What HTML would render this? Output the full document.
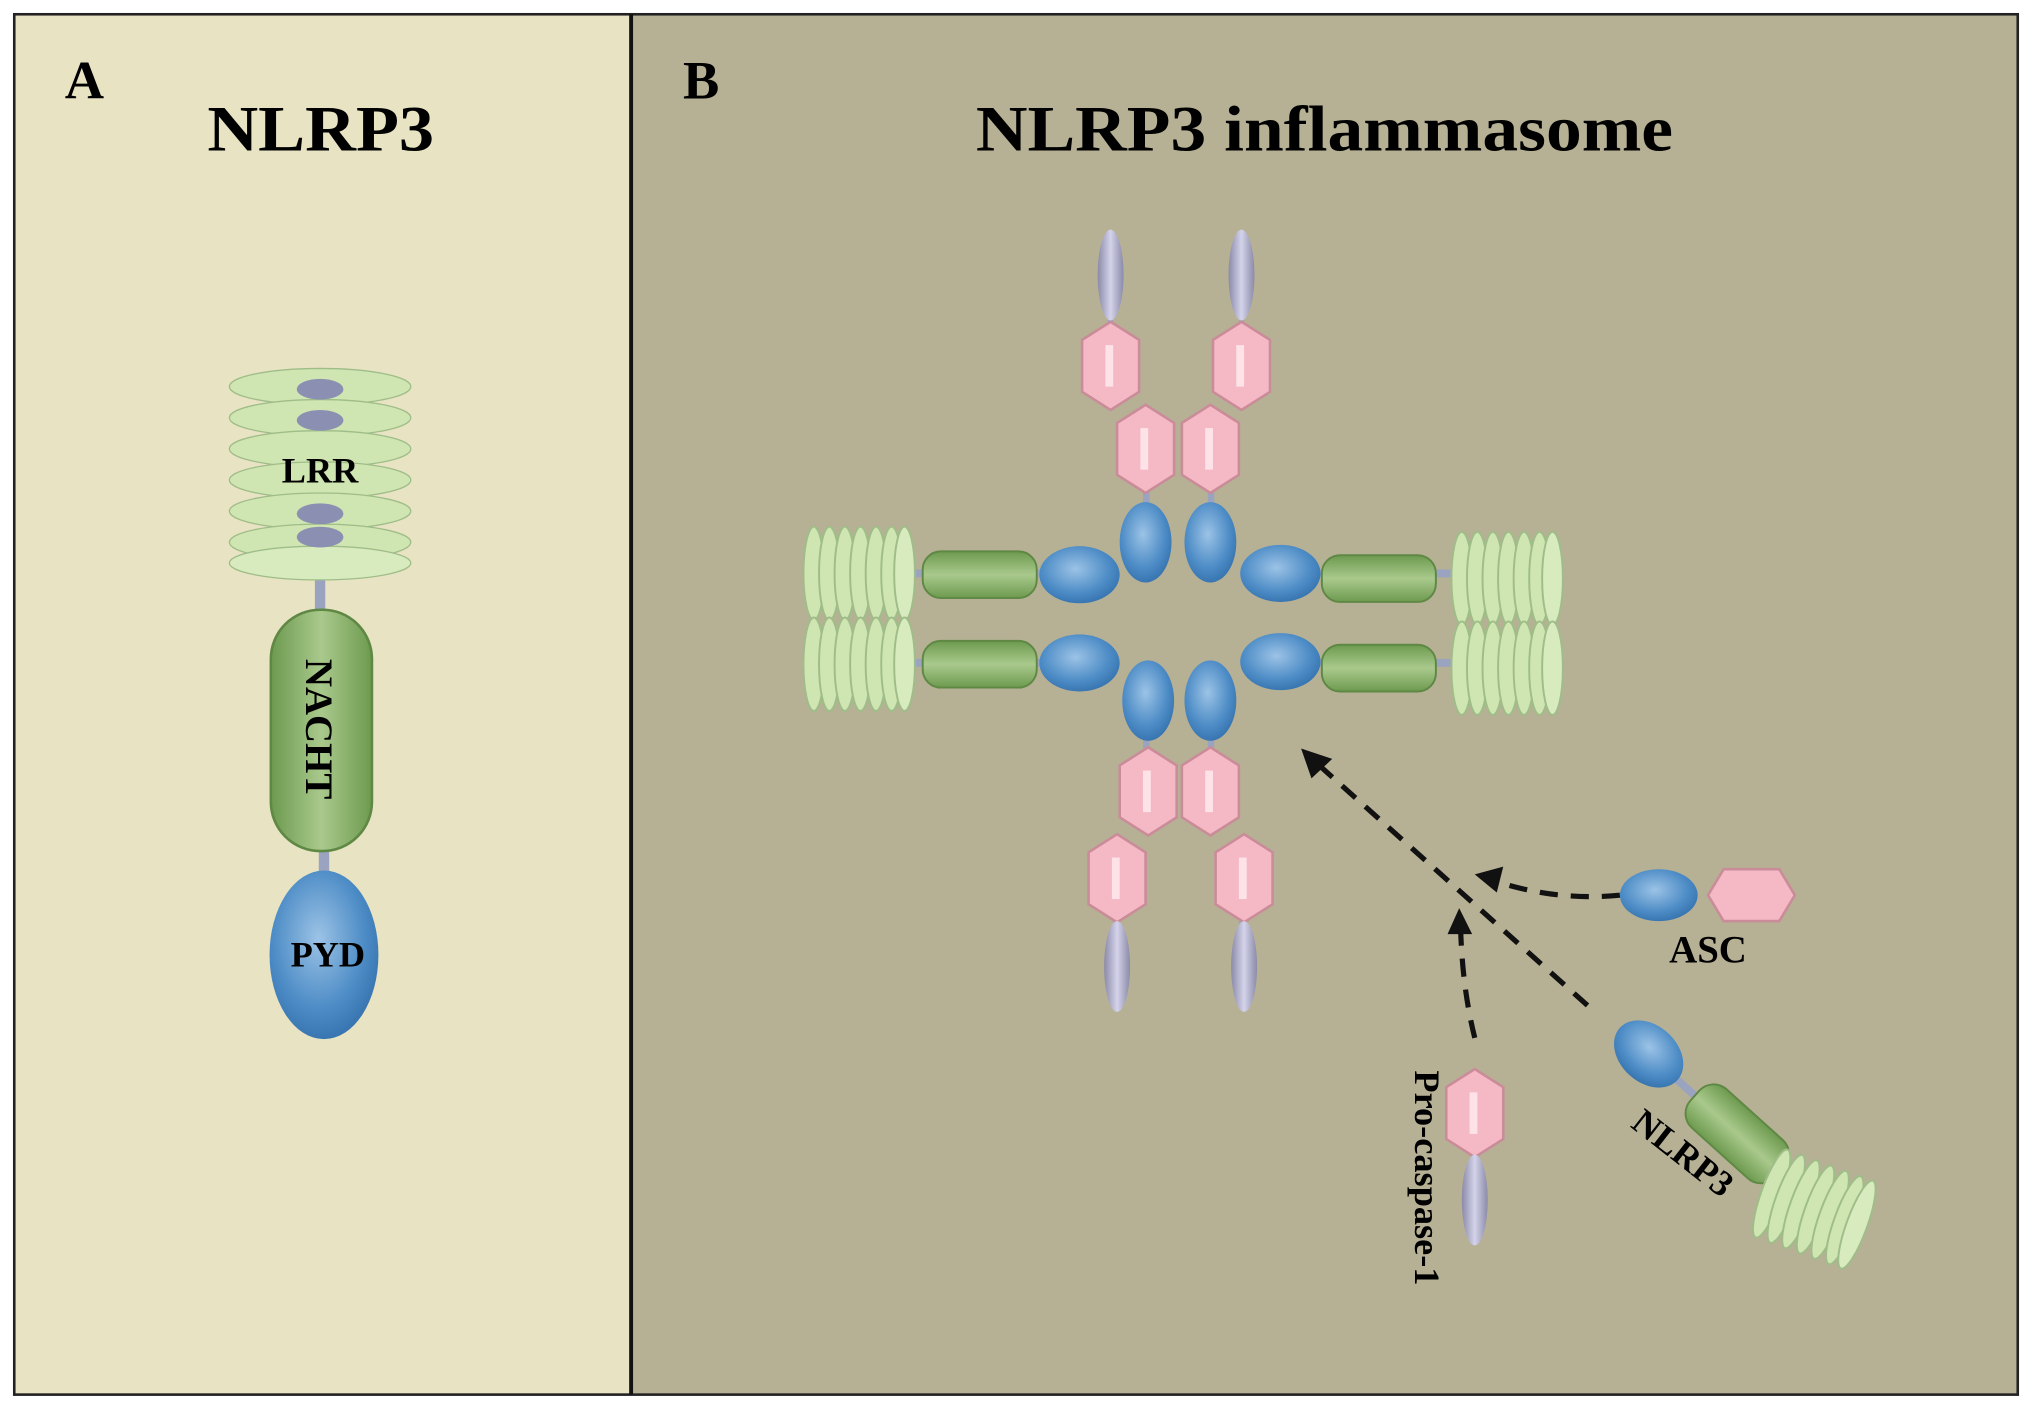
<!DOCTYPE html>
<html><head><meta charset="utf-8"><style>html,body{margin:0;padding:0;background:#fff}svg{display:block}</style></head>
<body>
<svg width="2032" height="1405" viewBox="0 0 1568 1083" preserveAspectRatio="none" xmlns="http://www.w3.org/2000/svg" font-family="Liberation Serif, serif" font-weight="bold">
<defs>
<radialGradient id="bl" cx="0.45" cy="0.4" r="0.7"><stop offset="0" stop-color="#9cc3e6"/><stop offset="0.6" stop-color="#4d8cc6"/><stop offset="1" stop-color="#2e6aa6"/></radialGradient>
<linearGradient id="gr" x1="0" y1="0" x2="0" y2="1"><stop offset="0" stop-color="#6d9a4f"/><stop offset="0.5" stop-color="#a9c98c"/><stop offset="1" stop-color="#6d9a4f"/></linearGradient>
<linearGradient id="grv" x1="0" y1="0" x2="1" y2="0"><stop offset="0" stop-color="#6d9a4f"/><stop offset="0.5" stop-color="#a9c98c"/><stop offset="1" stop-color="#6d9a4f"/></linearGradient>
<linearGradient id="pu" x1="0" y1="0" x2="1" y2="0"><stop offset="0" stop-color="#8b8aa8"/><stop offset="0.5" stop-color="#d4d3ea"/><stop offset="1" stop-color="#8b8aa8"/></linearGradient>
<g id="hex"><polygon points="0,-34 22,-20 22,20 0,34 -22,20 -22,-20" fill="#f4b9c4" stroke="#c98c98" stroke-width="2"/><rect x="-4" y="-16" width="6" height="32" fill="#fde3e8"/></g>
<g id="cas"><ellipse cx="0" cy="0" rx="10" ry="35" fill="url(#pu)"/></g>
<g id="discV">
<ellipse cx="0" cy="0" rx="8" ry="36" fill="#cfe5b2" stroke="#9fbd88" stroke-width="1.5"/>
<ellipse cx="12" cy="0" rx="8" ry="36" fill="#cfe5b2" stroke="#9fbd88" stroke-width="1.5"/>
<ellipse cx="24" cy="0" rx="8" ry="36" fill="#cfe5b2" stroke="#9fbd88" stroke-width="1.5"/>
<ellipse cx="36" cy="0" rx="8" ry="36" fill="#cfe5b2" stroke="#9fbd88" stroke-width="1.5"/>
<ellipse cx="48" cy="0" rx="8" ry="36" fill="#cfe5b2" stroke="#9fbd88" stroke-width="1.5"/>
<ellipse cx="60" cy="0" rx="8" ry="36" fill="#cfe5b2" stroke="#9fbd88" stroke-width="1.5"/>
<ellipse cx="70" cy="0" rx="8" ry="36" fill="#d8ebbf" stroke="#9fbd88" stroke-width="1.5"/>
</g>
</defs>
<rect x="0" y="0" width="1568" height="1083" fill="#fff"/>
<rect x="11" y="11" width="476" height="1064" fill="#e8e3c3"/>
<rect x="487" y="11" width="1070" height="1064" fill="#b6b195"/>
<rect x="11" y="11" width="1546" height="1064" fill="none" stroke="#222" stroke-width="2"/>
<line x1="487" y1="11" x2="487" y2="1075" stroke="#111" stroke-width="3"/>
<text x="50" y="76" font-size="42">A</text>
<text x="160" y="116" font-size="50" textLength="175" lengthAdjust="spacingAndGlyphs">NLRP3</text>
<text x="527" y="76" font-size="42">B</text>
<text x="753" y="116" font-size="50" textLength="538" lengthAdjust="spacingAndGlyphs">NLRP3 inflammasome</text>

<!-- Panel A -->
<g>
<rect x="243" y="300" width="8" height="180" fill="#9aa3c0"/>
<ellipse cx="247" cy="298" rx="70" ry="14" fill="#cfe5b2" stroke="#9fbd88"/>
<ellipse cx="247" cy="322" rx="70" ry="14" fill="#cfe5b2" stroke="#9fbd88"/>
<ellipse cx="247" cy="346" rx="70" ry="14" fill="#cfe5b2" stroke="#9fbd88"/>
<ellipse cx="247" cy="370" rx="70" ry="14" fill="#cfe5b2" stroke="#9fbd88"/>
<ellipse cx="247" cy="394" rx="70" ry="14" fill="#cfe5b2" stroke="#9fbd88"/>
<ellipse cx="247" cy="418" rx="70" ry="14" fill="#cfe5b2" stroke="#9fbd88"/>
<ellipse cx="247" cy="434" rx="70" ry="13" fill="#d8ebbf" stroke="#9fbd88"/>
<ellipse cx="247" cy="300" rx="18" ry="8" fill="#8b90b2"/>
<ellipse cx="247" cy="324" rx="18" ry="8" fill="#8b90b2"/>
<ellipse cx="247" cy="396" rx="18" ry="8" fill="#8b90b2"/>
<ellipse cx="247" cy="414" rx="18" ry="8" fill="#8b90b2"/>
<text x="247" y="372" font-size="28" text-anchor="middle">LRR</text>
<rect x="246" y="655" width="8" height="20" fill="#9aa3c0"/>
<rect x="209" y="470" width="78" height="186" rx="38" fill="url(#grv)" stroke="#5e8844" stroke-width="2"/>
<text transform="translate(236,562) rotate(90)" font-size="30" text-anchor="middle">NACHT</text>
<ellipse cx="250" cy="736" rx="42" ry="65" fill="url(#bl)"/>
<text x="253" y="745" font-size="28" text-anchor="middle">PYD</text>
</g>

<!-- Panel B top -->
<g>
<rect x="855" y="240" width="4" height="20" fill="#9aa3c0"/><rect x="956" y="240" width="4" height="20" fill="#9aa3c0"/>
<rect x="882" y="370" width="5" height="25" fill="#9aa3c0"/><rect x="932" y="370" width="5" height="25" fill="#9aa3c0"/>
<use href="#cas" x="857" y="212"/><use href="#cas" x="958" y="212"/>
<use href="#hex" x="857" y="282"/><use href="#hex" x="958" y="282"/>
<use href="#hex" x="884" y="346"/><use href="#hex" x="934" y="346"/>
<ellipse cx="884" cy="418" rx="20" ry="31" fill="url(#bl)"/>
<ellipse cx="934" cy="418" rx="20" ry="31" fill="url(#bl)"/>
<rect x="882" y="560" width="5" height="25" fill="#9aa3c0"/><rect x="932" y="560" width="5" height="25" fill="#9aa3c0"/>
<rect x="859" y="700" width="4" height="20" fill="#9aa3c0"/><rect x="956" y="700" width="4" height="20" fill="#9aa3c0"/>
<ellipse cx="886" cy="540" rx="20" ry="31" fill="url(#bl)"/>
<ellipse cx="934" cy="540" rx="20" ry="31" fill="url(#bl)"/>
<use href="#hex" x="886" y="610"/><use href="#hex" x="934" y="610"/>
<use href="#hex" x="862" y="677"/><use href="#hex" x="960" y="677"/>
<use href="#cas" x="862" y="745"/><use href="#cas" x="960" y="745"/>
<g>
<rect x="690" y="439" width="140" height="6" fill="#9aa3c0"/>
<rect x="690" y="508" width="140" height="6" fill="#9aa3c0"/>
<rect x="990" y="439" width="140" height="6" fill="#9aa3c0"/>
<rect x="990" y="508" width="140" height="6" fill="#9aa3c0"/>
<use href="#discV" x="628" y="442"/><use href="#discV" x="628" y="512"/>
<use href="#discV" x="1128" y="446"/><use href="#discV" x="1128" y="515"/>
<rect x="712" y="425" width="88" height="36" rx="14" fill="url(#gr)" stroke="#5e8844" stroke-width="1.5"/>
<rect x="712" y="494" width="88" height="36" rx="14" fill="url(#gr)" stroke="#5e8844" stroke-width="1.5"/>
<rect x="1020" y="428" width="88" height="36" rx="14" fill="url(#gr)" stroke="#5e8844" stroke-width="1.5"/>
<rect x="1020" y="497" width="88" height="36" rx="14" fill="url(#gr)" stroke="#5e8844" stroke-width="1.5"/>
<ellipse cx="833" cy="443" rx="31" ry="22" fill="url(#bl)"/>
<ellipse cx="833" cy="511" rx="31" ry="22" fill="url(#bl)"/>
<ellipse cx="988" cy="442" rx="31" ry="22" fill="url(#bl)"/>
<ellipse cx="988" cy="510" rx="31" ry="22" fill="url(#bl)"/>
</g>
</g>

<!-- arrows -->
<g stroke="#111" stroke-width="4" fill="none" stroke-dasharray="14,10">
<line x1="1225" y1="775" x2="1018" y2="590"/>
<path d="M1250,690 Q1200,695 1150,678"/>
<path d="M1138,800 Q1128,760 1127,712"/>
</g>
<polygon points="1004,577 1028,585 1012,600" fill="#111"/>
<polygon points="1138,674 1160,668 1155,688" fill="#111"/>
<polygon points="1126,700 1117,720 1136,720" fill="#111"/>

<!-- ASC -->
<ellipse cx="1280" cy="690" rx="30" ry="20" fill="url(#bl)"/>
<polygon points="1318,690 1330,670 1373,670 1385,690 1373,710 1330,710" fill="#f4b9c4" stroke="#c98c98" stroke-width="2"/>
<text x="1318" y="742" font-size="30" text-anchor="middle">ASC</text>

<!-- Pro-caspase-1 -->
<rect x="1136" y="880" width="4" height="20" fill="#9aa3c0"/>
<use href="#hex" x="1138" y="858"/>
<use href="#cas" x="1138" y="925"/>
<text transform="translate(1092,908) rotate(90)" font-size="28" text-anchor="middle">Pro-caspase-1</text>

<!-- NLRP3 monomer -->
<g transform="translate(1345,878) rotate(42)">
<rect x="-110" y="-3" width="200" height="6" fill="#9aa3c0"/>
<ellipse cx="-98" cy="0" rx="30" ry="22" fill="url(#bl)"/>
<rect x="-50" y="-20" width="88" height="40" rx="15" fill="url(#gr)" stroke="#5e8844" stroke-width="1.5"/>
</g>
<g transform="translate(1400,932) rotate(20)"><use href="#discV" x="-35" y="0"/></g>
<text transform="translate(1293,896) rotate(38)" font-size="28" text-anchor="middle">NLRP3</text>
</svg>
</body></html>
